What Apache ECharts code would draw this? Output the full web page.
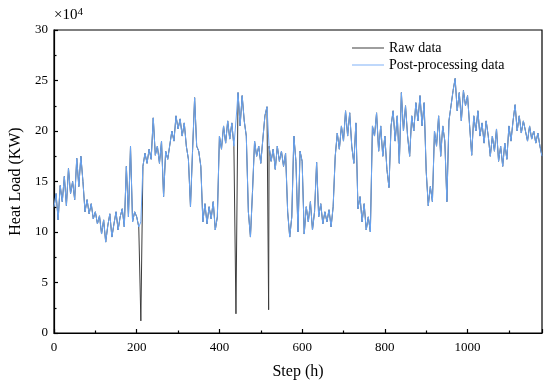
<!DOCTYPE html>
<html>
<head>
<meta charset="utf-8">
<script src="https://cdn.jsdelivr.net/npm/echarts@6/dist/echarts.min.js"></script>
<style>
html,body{margin:0;padding:0;background:#fff;}
#c{width:550px;height:385px;}
</style>
</head>
<body>
<div id="c"></div>
<script>
// Step spacing of the post-processing record (h)
var stepSize = 5;
// Post-processing heat load (x10^4 KW), one value every 5 h from step 0
var postValues = [
  12.5,13.8,11.2,14.6,13.0,15.5,12.6,16.3,13.8,15.0,
  13.2,17.3,14.5,17.5,15.0,12.0,13.2,11.8,12.8,11.3,
  12.0,10.8,11.6,9.8,11.2,9.0,10.6,11.8,9.5,10.8,
  12.0,10.2,11.5,12.3,10.5,16.5,11.5,18.5,11.0,12.0,
  11.5,10.5,11.0,16.5,17.8,16.8,18.2,17.2,21.3,17.6,
  18.5,16.8,19.0,13.5,18.0,17.2,18.6,20.0,19.0,21.5,
  20.2,21.2,19.5,20.8,18.5,17.2,12.5,18.0,23.3,18.5,
  18.0,16.5,11.0,12.8,10.8,12.5,11.3,13.0,10.2,11.5,
  19.5,18.2,20.5,18.8,21.0,19.2,20.8,18.5,21.0,23.8,
  20.5,23.5,21.0,19.5,12.0,9.5,14.0,19.0,17.5,18.5,
  16.8,19.2,21.5,22.4,18.5,17.0,18.2,16.2,18.5,17.0,
  18.0,16.5,17.8,12.0,9.5,11.5,19.5,17.0,10.0,18.0,
  17.0,9.8,12.5,11.0,13.0,10.2,12.0,16.9,11.5,12.8,
  10.8,12.0,11.0,12.2,10.5,12.5,17.5,19.8,18.2,20.5,
  19.0,22.0,19.5,21.8,18.5,16.8,20.8,12.3,13.5,11.0,
  12.8,10.2,11.5,10.0,20.5,19.5,21.8,18.0,20.5,17.5,
  19.5,16.2,14.4,20.5,22.0,19.0,21.5,16.8,23.8,20.0,
  22.5,19.5,17.5,21.5,20.0,22.8,21.0,23.5,20.5,22.8,
  16.0,12.6,14.5,13.0,20.0,18.5,21.5,17.5,20.5,19.0,
  13.0,21.0,22.5,24.0,25.2,22.0,23.8,21.0,24.0,22.5,
  23.5,20.5,17.6,21.5,20.0,22.0,19.5,20.8,18.8,21.0,
  19.5,17.5,19.5,18.0,20.2,17.0,18.5,16.5,18.8,17.2,
  20.5,19.0,21.0,22.6,20.0,21.5,19.8,21.0,20.0,19.0,
  20.5,19.2,20.0,18.8,19.8,18.5,17.5
];
// Raw data anomalies (step, value x10^4 KW); elsewhere raw equals post-processing
var rawSpikes = [[210, 1.2], [440, 1.9], [519, 2.3]];
var xTicks = [0, 200, 400, 600, 800, 1000];
var yTicks = [0, 5, 10, 15, 20, 25, 30];

var postData = postValues.map(function (v, i) { return [i * stepSize, v]; });
var spikeX = rawSpikes.map(function (p) { return p[0]; });
var rawData = postData.filter(function (p) { return spikeX.indexOf(p[0]) < 0; })
  .concat(rawSpikes)
  .sort(function (a, b) { return a[0] - b[0]; });

var serif = '"Liberation Serif","Times New Roman",serif';
var chart = echarts.init(document.getElementById('c'), null, {renderer: 'canvas'});
chart.setOption({
  animation: false,
  backgroundColor: '#fff',
  textStyle: {fontFamily: serif, color: '#000'},
  grid: {left: 53, right: 8, top: 30, bottom: 50, show: true, borderColor: '#000', borderWidth: 1.2, backgroundColor: 'transparent'},
  legend: {
    orient: 'vertical', left: 347, top: 36, itemGap: 3,
    icon: 'rect', itemWidth: 32, itemHeight: 1, itemStyle: {borderWidth: 0},
    textStyle: {fontFamily: serif, fontSize: 14, color: '#000'},
    data: ['Raw data', 'Post-processing data']
  },
  xAxis: {
    type: 'value', min: 0, max: 1180, interval: xTicks[1] - xTicks[0],
    name: 'Step (h)', nameLocation: 'middle', nameGap: 31,
    nameTextStyle: {fontFamily: serif, fontSize: 16, color: '#000'},
    axisLine: {onZero: false, lineStyle: {color: '#000', width: 1.2}},
    axisTick: {inside: true, length: 4, lineStyle: {color: '#000', width: 1.2}},
    minorTick: {show: true, splitNumber: 2, length: 2.5, lineStyle: {color: '#000', width: 1.2}},
    axisLabel: {showMaxLabel: false, fontFamily: serif, fontSize: 13, color: '#000', margin: 8,
      formatter: function (v) { return xTicks.indexOf(v) >= 0 ? String(v) : ''; }},
    splitLine: {show: false}
  },
  yAxis: {
    type: 'value', min: 0, max: 30, interval: yTicks[1] - yTicks[0],
    name: 'Heat Load (KW)', nameLocation: 'middle', nameGap: 30,
    nameTextStyle: {fontFamily: serif, fontSize: 16, color: '#000'},
    axisLine: {show: true, lineStyle: {color: '#000', width: 1.2}},
    axisTick: {inside: true, length: 4, lineStyle: {color: '#000', width: 1.2}},
    minorTick: {show: true, splitNumber: 2, length: 2.5, lineStyle: {color: '#000', width: 1.2}},
    axisLabel: {fontFamily: serif, fontSize: 13, color: '#000', margin: 6},
    splitLine: {show: false}
  },
  graphic: [{
    type: 'text', left: 54, top: 7,
    style: {
      text: '{a|×10}{b|4}', fontFamily: serif,
      rich: {a: {fontSize: 15, fontFamily: serif, fill: '#000'}, b: {fontSize: 11, fontFamily: serif, fill: '#000', verticalAlign: 'top', padding: [0, 0, 6, 0]}}
    }
  }],
  series: [
    {name: 'Raw data', type: 'line', data: rawData, showSymbol: false, symbol: 'none',
      lineStyle: {color: '#3c3c3c', width: 1}, itemStyle: {color: '#3c3c3c'}},
    {name: 'Post-processing data', type: 'line', data: postData, showSymbol: false, symbol: 'none',
      lineStyle: {color: '#6aa6f6', width: 1}, itemStyle: {color: '#7fb1f6'}}
  ]
});
</script>
</body>
</html>
